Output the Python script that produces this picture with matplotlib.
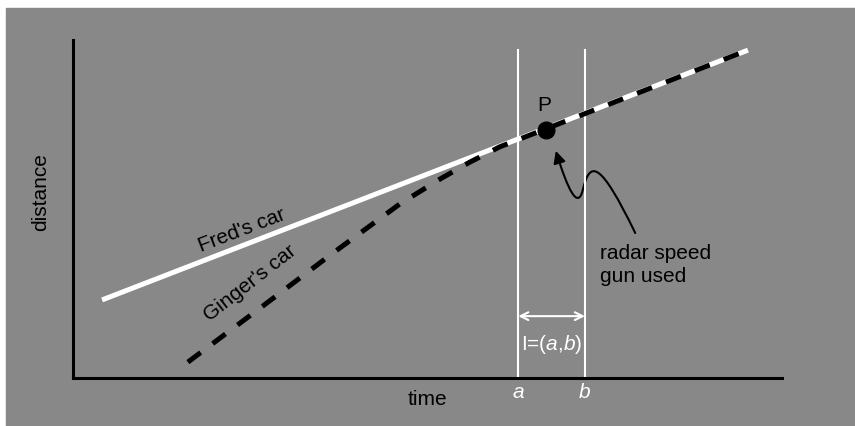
import matplotlib.pyplot as plt
from matplotlib.patches import Rectangle, FancyArrowPatch
from matplotlib.path import Path

plt.rcParams['font.family'] = ['Liberation Sans', 'DejaVu Sans']
plt.rcParams['mathtext.fontset'] = 'custom'
plt.rcParams['mathtext.it'] = 'Liberation Sans:italic'
plt.rcParams['mathtext.rm'] = 'Liberation Sans'

# Fred's car: constant speed
fred_time = [0.41, 9.52]
fred_dist = [2.31, 9.70]

# Ginger's car: faster at first, then matches Fred
ginger_time = [1.62, 2.64, 3.63, 4.61, 5.18, 5.60, 6.02, 9.52]
ginger_dist = [0.47, 2.07, 3.64, 5.15, 5.89, 6.39, 6.84, 9.70]

# interval I=(a,b) and point P
t_a, t_b = 6.28, 7.22
p_time, p_dist = 6.67, 7.34

fs = 15
bg = '#888888'
fig = plt.figure(figsize=(8.55, 4.26), dpi=100, facecolor='white')
fig.patches.append(Rectangle((6 / 855, 0), 849 / 855, 418 / 426,
                             transform=fig.transFigure, color=bg, zorder=-10))

ax = fig.add_axes([73 / 855, 48 / 426, 709 / 855, 338 / 426])
ax.set_facecolor('none')
ax.set_xlim(0, 10)
ax.set_ylim(0, 10)
ax.set_xticks([])
ax.set_yticks([])
for s in ['top', 'right']:
    ax.spines[s].set_visible(False)
for s in ['left', 'bottom']:
    ax.spines[s].set_linewidth(2.2)
    ax.spines[s].set_capstyle('projecting')

# interval lines
ax.plot([t_a, t_a], [0, 9.7], color='white', lw=1.5)
ax.plot([t_b, t_b], [0, 9.7], color='white', lw=1.5)

ax.plot(fred_time, fred_dist, color='white', lw=3.6, solid_capstyle='butt')
ax.plot(ginger_time, ginger_dist, color='black', lw=3.6,
        linestyle=(0, (3.2, 3.0)), dash_capstyle='butt')

ax.plot(p_time, p_dist, 'o', color='black', markersize=12)
ax.text(p_time - 0.03, 8.05, 'P', fontsize=fs, ha='center', va='center')

ax.text(2.38, 4.38, "Fred's car", fontsize=fs, rotation=21, ha='center', va='center')
ax.text(2.50, 2.81, "Ginger's car", fontsize=fs, rotation=38, ha='center', va='center')

# I=(a,b)
ax.annotate('', xy=(t_b, 1.83), xytext=(t_a, 1.83),
            arrowprops=dict(arrowstyle='<->', color='white', lw=1.5,
                            shrinkA=0, shrinkB=0, mutation_scale=14))
ax.text((t_a + t_b) / 2, 0.98, 'I=($a$,$b$)', color='white', fontsize=fs,
        ha='center', va='center')
ax.text(t_a, -0.42, '$a$', color='white', fontsize=fs, ha='center', va='center', clip_on=False)
ax.text(t_b, -0.42, '$b$', color='white', fontsize=fs, ha='center', va='center', clip_on=False)

# radar speed gun note
ax.text(7.43, 3.34, 'radar speed\ngun used', fontsize=fs, ha='left', va='center',
        linespacing=1.25)
verts = [(7.93, 4.29), (7.43, 6.45), (7.29, 6.45), (7.19, 5.56),
         (7.12, 4.97), (6.98, 5.56), (6.81, 6.72)]
codes = [Path.MOVETO, Path.CURVE4, Path.CURVE4, Path.CURVE4,
         Path.CURVE4, Path.CURVE4, Path.CURVE4]
ax.add_patch(FancyArrowPatch(path=Path(verts, codes), arrowstyle='-|>',
                             mutation_scale=18, lw=1.5, color='black'))

ax.text(0.5, -0.065, 'time', fontsize=fs, ha='center', va='center', transform=ax.transAxes)
ax.text(-0.046, 0.55, 'distance', fontsize=fs, rotation=90, ha='center', va='center',
        transform=ax.transAxes)

fig.savefig('out.png', dpi=100, facecolor='white')
